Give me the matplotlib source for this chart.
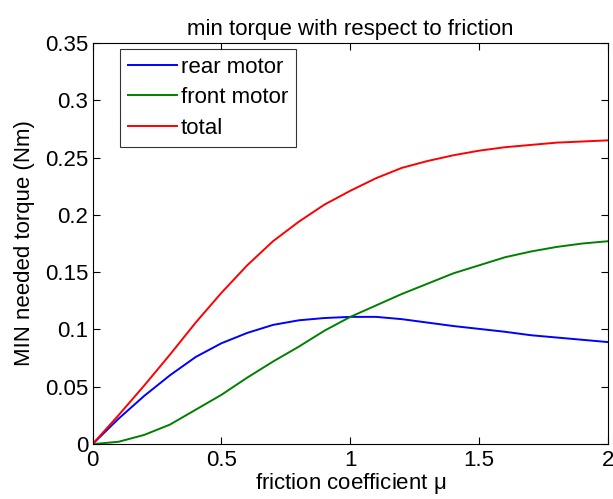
import numpy as np
import matplotlib
matplotlib.use("Agg")
import matplotlib.pyplot as plt

plt.rcParams["font.family"] = ["Liberation Sans", "DejaVu Sans"]
plt.rcParams["mathtext.fontset"] = "custom"
plt.rcParams["mathtext.rm"] = "Liberation Sans"
plt.rcParams["mathtext.it"] = "Liberation Sans"

# friction coefficient samples and values
mu = [0.0, 0.1, 0.2, 0.3, 0.4, 0.5, 0.6, 0.7, 0.8, 0.9, 1.0,
      1.1, 1.2, 1.3, 1.4, 1.5, 1.6, 1.7, 1.8, 1.9, 2.0]
rear = [0.0, 0.022, 0.042, 0.060, 0.076, 0.088, 0.097, 0.104, 0.108, 0.110, 0.111,
        0.111, 0.109, 0.106, 0.103, 0.1005, 0.098, 0.095, 0.093, 0.091, 0.089]
front = [0.0, 0.002, 0.008, 0.017, 0.030, 0.043, 0.058, 0.072, 0.085, 0.099, 0.111,
         0.121, 0.131, 0.140, 0.149, 0.156, 0.163, 0.168, 0.172, 0.175, 0.177]
total = [0.0, 0.025, 0.051, 0.078, 0.106, 0.132, 0.156, 0.177, 0.194, 0.209, 0.221,
         0.232, 0.241, 0.247, 0.252, 0.256, 0.259, 0.261, 0.263, 0.264, 0.265]

xticks = [0, 0.5, 1, 1.5, 2]
xticklabels = ["0", "0.5", "1", "1.5", "2"]
yticks = [0, 0.05, 0.1, 0.15, 0.2, 0.25, 0.3, 0.35]
yticklabels = ["0", "0.05", "0.1", "0.15", "0.2", "0.25", "0.3", "0.35"]

FS = 16

fig = plt.figure(figsize=(6.13, 4.99), dpi=100)
ax = fig.add_axes([0.151, 0.110, 0.841, 0.804])

ax.plot(mu, rear, color="#0000ff", lw=1.4, label="rear motor")
ax.plot(mu, front, color="#008000", lw=1.4, label="front motor")
ax.plot(mu, total, color="#ff0000", lw=1.4, label="total")

ax.set_xlim(0, 2)
ax.set_ylim(0, 0.35)
ax.set_xticks(xticks, xticklabels)
ax.set_yticks(yticks, yticklabels)
ax.tick_params(direction="in", top=True, right=True, length=5, width=0.8,
               labelsize=FS)
ax.tick_params(axis="x", pad=4)
ax.tick_params(axis="y", pad=3)
for s in ax.spines.values():
    s.set_linewidth(0.8)

ax.set_title("min torque with respect to friction", fontsize=FS, pad=6)
ax.set_xlabel(r"friction coefficient $\mu$", fontsize=FS, labelpad=0)
ax.set_ylabel("MIN needed torque (Nm)", fontsize=FS, labelpad=7)

leg = ax.legend(loc="upper left", bbox_to_anchor=(0.053, 0.985), fontsize=FS,
                frameon=True, fancybox=False, edgecolor="black",
                handlelength=2.2, handletextpad=0.2, borderpad=0.35,
                labelspacing=0.43, borderaxespad=0)
leg.get_frame().set_linewidth(0.8)

fig.savefig("out.png", dpi=100)
